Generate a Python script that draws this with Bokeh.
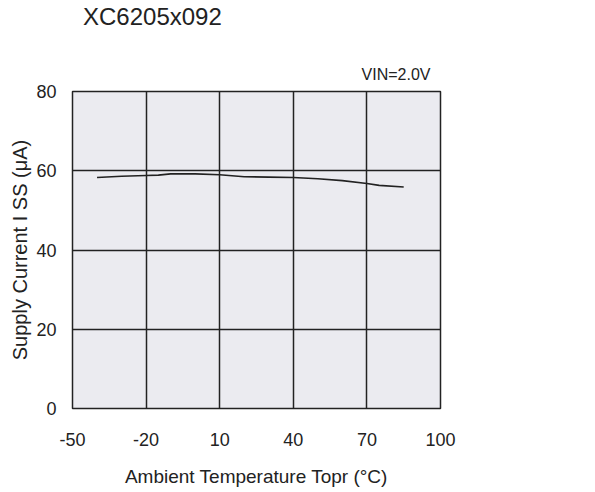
from bokeh.plotting import figure
from bokeh.models import FixedTicker, Title, Div
from bokeh.layouts import column
from bokeh.embed import file_html
from bokeh.resources import INLINE

temps = [-40, -30, -20, -15, -10, 0, 10, 20, 30, 40, 50, 60, 70, 75, 85]
current = [58.3, 58.6, 58.8, 58.9, 59.2, 59.2, 59.0, 58.5, 58.4, 58.3, 58.0, 57.5, 56.8, 56.3, 55.9]
x_ticks = [-50, -20, 10, 40, 70, 100]
x_tick_labels = ["-50", "-20", "10", "40", "70", "100"]
y_ticks = [0, 20, 40, 60, 80]

FONT = "Liberation Sans"
INK = "#222222"
FW, FH = 368, 317

header = Div(text="XC6205x092", width=580, height=34,
             styles={"font-family": FONT, "font-size": "24px", "line-height": "34px",
                     "color": INK, "padding-left": "83px", "margin": "0"})

p = figure(frame_width=FW, frame_height=FH, x_range=(-50, 100), y_range=(0, 80),
           output_backend="svg", toolbar_location=None,
           min_border_left=72, min_border_right=140, min_border_top=57, min_border_bottom=70)

p.background_fill_color = "#ebebf0"
p.border_fill_color = "white"
p.outline_line_color = INK
p.outline_line_width = 1.5

for ax in (p.xaxis, p.yaxis):
    ax.axis_line_color = None
    ax.major_tick_line_color = None
    ax.minor_tick_line_color = None
    ax.major_label_text_font = FONT
    ax.major_label_text_font_size = "18px"
    ax.major_label_text_color = INK
    ax.axis_label_text_font = FONT
    ax.axis_label_text_font_size = "19px"
    ax.axis_label_text_font_style = "normal"
    ax.axis_label_text_color = INK

p.yaxis.axis_label_text_font_size = "20px"
p.xaxis.ticker = FixedTicker(ticks=x_ticks)
p.xaxis.major_label_overrides = {t: s for t, s in zip(x_ticks, x_tick_labels)}
p.yaxis.ticker = FixedTicker(ticks=y_ticks)
p.xaxis.major_label_standoff = 18
p.yaxis.major_label_standoff = 10
p.xaxis.axis_label = "Ambient Temperature Topr (°C)"
p.yaxis.axis_label = "Supply Current I SS (μA)"
p.xaxis.axis_label_standoff = 17
p.yaxis.axis_label_standoff = 2

p.grid.grid_line_color = INK
p.grid.grid_line_width = 1.5
p.xgrid.ticker = FixedTicker(ticks=x_ticks)
p.ygrid.ticker = FixedTicker(ticks=y_ticks)

p.line(temps, current, line_color=INK, line_width=1.6)

p.title = None
p.add_layout(Title(text="VIN=2.0V", align="right", offset=10, standoff=17,
                   text_font=FONT, text_font_size="16px", text_color=INK,
                   text_font_style="normal"), "above")

layout = column(header, p, spacing=0)
open("out.html", "w").write(file_html(layout, INLINE))
